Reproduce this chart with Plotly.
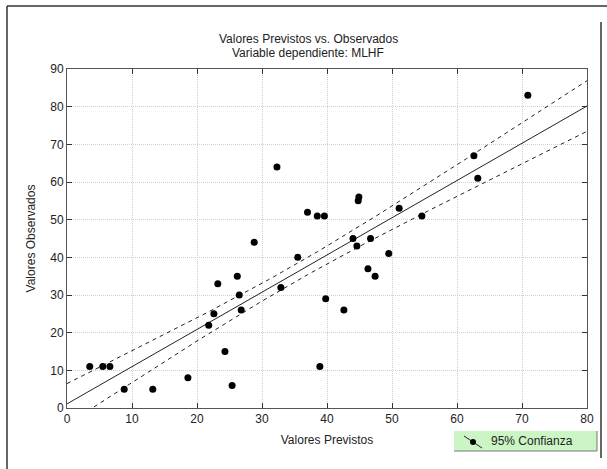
import numpy as np
import plotly.graph_objects as go

# Data
previstos = [3.5, 5.5, 6.6, 8.8, 13.2, 18.6, 21.8, 22.6, 23.2, 24.3, 25.4, 26.2, 26.5, 26.8,
             28.8, 32.3, 32.9, 35.5, 37.0, 38.5, 39.6, 38.9, 39.8, 42.6, 44.0, 44.6, 44.8,
             44.9, 46.3, 46.7, 47.4, 49.5, 51.1, 54.6, 62.6, 63.2, 70.9]
observados = [11, 11, 11, 5, 5, 8, 22, 25, 33, 15, 6, 35, 30, 26,
              44, 64, 32, 40, 52, 51, 51, 11, 29, 26, 45, 43, 55,
              56, 37, 45, 35, 41, 53, 51, 67, 61, 83]
x_ticks = [0, 10, 20, 30, 40, 50, 60, 70, 80]
y_ticks = [0, 10, 20, 30, 40, 50, 60, 70, 80, 90]
BAND_T = 1.2

x = np.array(previstos, float)
y = np.array(observados, float)
n = len(x)
b, a = np.polyfit(x, y, 1)
res = y - (a + b * x)
s = np.sqrt(np.sum(res ** 2) / (n - 2))
sxx = np.sum((x - x.mean()) ** 2)
xf = np.linspace(0, 80, 161)
yf = a + b * xf
hw = BAND_T * s * np.sqrt(1 / n + (xf - x.mean()) ** 2 / sxx)

FONT = "Liberation Sans, Arial, sans-serif"
fig = go.Figure()
fig.add_trace(go.Scatter(x=xf, y=yf, mode="lines", line=dict(color="#222", width=1), showlegend=False))
fig.add_trace(go.Scatter(x=xf, y=yf + hw, mode="lines", line=dict(color="#222", width=1, dash="4px,4px"), showlegend=False))
fig.add_trace(go.Scatter(x=xf, y=yf - hw, mode="lines", line=dict(color="#222", width=1, dash="4px,4px"), showlegend=False))
fig.add_trace(go.Scatter(x=previstos, y=observados, mode="markers",
                         marker=dict(color="black", size=7), showlegend=False))

L, R, T, B = 67, 587, 69, 408
W, H = R - L, B - T
def px(v):
    return (v - L) / W
def py(v):
    return (B - v) / H

shapes = [
    dict(type="line", xref="paper", yref="paper", x0=px(7), x1=px(607), y0=py(6), y1=py(6), line=dict(color="#333", width=1.5)),
    dict(type="line", xref="paper", yref="paper", x0=px(7), x1=px(7), y0=py(6), y1=py(469), line=dict(color="#333", width=1.5)),
    dict(type="line", xref="paper", yref="paper", x0=px(601), x1=px(601), y0=py(22), y1=py(458), line=dict(color="#333", width=1.5)),
    dict(type="rect", xref="paper", yref="paper", x0=px(454), x1=px(597), y0=py(451), y1=py(431), fillcolor="#ccf5c6", line=dict(width=0)),
    dict(type="line", xref="paper", yref="paper", x0=px(454), x1=px(597), y0=py(451), y1=py(451), line=dict(color="#777", width=1)),
    dict(type="line", xref="paper", yref="paper", x0=px(597), x1=px(597), y0=py(431), y1=py(451), line=dict(color="#777", width=1)),
    dict(type="line", xref="paper", yref="paper", x0=px(464), x1=px(482), y0=py(436), y1=py(448), line=dict(color="#222", width=1)),
    dict(type="circle", xref="paper", yref="paper", x0=px(470), x1=px(476), y0=py(439), y1=py(445), fillcolor="black", line=dict(width=0)),
]

annotations = [
    dict(text="Valores Previstos vs. Observados", xref="paper", yref="paper", x=px(308), y=py(39),
         xanchor="center", yanchor="middle",
         showarrow=False, font=dict(size=12, color="#222", family=FONT)),
    dict(text="Variable dependiente: MLHF", xref="paper", yref="paper", x=px(308), y=py(53),
         xanchor="center", yanchor="middle",
         showarrow=False, font=dict(size=12, color="#222", family=FONT)),
    dict(text="95% Confianza", xref="paper", yref="paper", x=px(489), y=py(441),
         xanchor="left", yanchor="middle",
         showarrow=False, font=dict(size=12, color="#222", family=FONT)),
]

fig.update_layout(
    width=607, height=469,
    margin=dict(l=L, r=607 - R, t=T, b=469 - B),
    paper_bgcolor="white", plot_bgcolor="white",
    font=dict(family=FONT, size=12, color="#222"),
    shapes=shapes, annotations=annotations,
)
axis_common = dict(showline=True, linecolor="#555", linewidth=1, mirror="ticks",
                   ticks="inside", ticklen=5, tickcolor="#333",
                   showgrid=True, gridcolor="#cfcfcf", griddash="1px,1px", gridwidth=1,
                   zeroline=False, tickfont=dict(size=12, color="#222"))
fig.update_xaxes(range=[0, 80], tickvals=x_ticks, title=dict(text="Valores Previstos", standoff=10,
                 font=dict(size=12)), **axis_common)
fig.update_yaxes(range=[0, 90], tickvals=y_ticks, title=dict(text="Valores Observados", standoff=12,
                 font=dict(size=12)), **axis_common)
fig.write_html("out.html", config={"displayModeBar": False},
               post_script="document.body.style.margin='0';")
